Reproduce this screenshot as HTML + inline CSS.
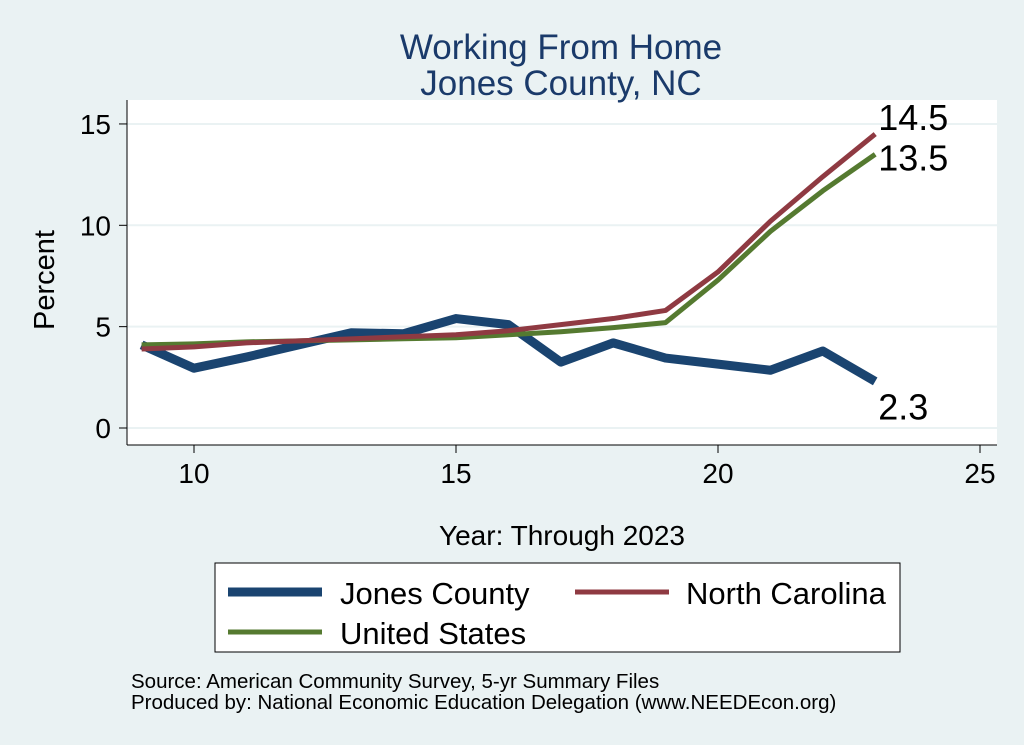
<!DOCTYPE html>
<html><head><meta charset="utf-8"><style>
body{margin:0;background:#eaf2f3;}
svg{display:block;font-family:"Liberation Sans",Arial,sans-serif;}
</style></head><body>
<svg id="chart" width="1024" height="745">
<rect x="0" y="0" width="1024" height="745" fill="#eaf2f3"/>
<rect x="127" y="100" width="870" height="345" fill="#ffffff"/>
<text x="561" y="59" font-size="35" fill="#1a3a6a" text-anchor="middle">Working From Home</text>
<text x="561" y="95" font-size="35" fill="#1a3a6a" text-anchor="middle">Jones County, NC</text>
<g id="grid"></g><g id="axes"></g><g id="series"></g>
<text x="54" y="280" font-size="29" fill="#000" text-anchor="middle" transform="rotate(-90 54 280)">Percent</text>
<text x="562" y="545" font-size="28" fill="#000" text-anchor="middle">Year: Through 2023</text>
<g>
<rect x="215" y="563" width="685" height="89" fill="#fff" stroke="#000" stroke-width="1"/>
<line x1="228" y1="592" x2="322" y2="592" stroke="#1a4470" stroke-width="9"/>
<text x="340" y="604" font-size="31">Jones County</text>
<line x1="575" y1="592" x2="669" y2="592" stroke="#8f3a42" stroke-width="5"/>
<text x="686" y="604" font-size="31">North Carolina</text>
<line x1="228" y1="632" x2="322" y2="632" stroke="#557a30" stroke-width="5"/>
<text x="340" y="644" font-size="31">United States</text>
</g>
<text x="131" y="688" font-size="20.5">Source: American Community Survey, 5-yr Summary Files</text>
<text x="131" y="709" font-size="20.5">Produced by: National Economic Education Delegation (www.NEEDEcon.org)</text>
</svg>
<script>
const years=[9,10,11,12,13,14,15,16,17,18,19,20,21,22,23];
const jones=[4.1,2.95,3.5,4.1,4.7,4.65,5.4,5.1,3.25,4.2,3.45,3.15,2.85,3.8,2.3];
const nc=[3.9,4.0,4.2,4.3,4.4,4.5,4.6,4.8,5.1,5.4,5.8,7.7,10.2,12.4,14.5];
const us=[4.1,4.15,4.25,4.3,4.35,4.4,4.45,4.6,4.75,4.95,5.2,7.3,9.7,11.7,13.5];
const xTicks=[10,15,20,25];
const yTicks=[0,5,10,15];
const NS="http://www.w3.org/2000/svg";
const xs=v=>194+(v-10)*52.4;
const ys=v=>428-v*20.27;
function mk(t,a,p){const e=document.createElementNS(NS,t);for(const k in a)e.setAttribute(k,a[k]);p.appendChild(e);return e;}
const grid=document.getElementById('grid'),axes=document.getElementById('axes'),ser=document.getElementById('series');
yTicks.forEach(v=>{
 const g=mk('line',{x1:127,x2:997,y1:ys(v),y2:ys(v),stroke:'#eaf2f3','stroke-width':2},grid);
 
 
 mk('line',{x1:119,x2:127,y1:ys(v),y2:ys(v),stroke:'#000'},axes);
 const t=mk('text',{x:111,y:ys(v)+10,'font-size':28,'text-anchor':'end'},axes);t.textContent=v;
 
 
});
xTicks.forEach(v=>{
 mk('line',{x1:xs(v),x2:xs(v),y1:445,y2:453,stroke:'#000'},axes);
 const t=mk('text',{x:xs(v),y:483,'font-size':28,'text-anchor':'middle'},axes);t.textContent=v;
 
 
});
mk('line',{x1:127,x2:127,y1:100,y2:445,stroke:'#000'},axes);
mk('line',{x1:127,x2:997,y1:445,y2:445,stroke:'#000'},axes);
function line(d,col,w,name){
 const p=mk('polyline',{points:years.map((y,i)=>xs(y)+','+ys(d[i])).join(' '),fill:'none',stroke:col,'stroke-width':w,'stroke-linejoin':'round'},ser);
 
 
 const n=d.length-1;return [xs(years[n]),ys(d[n]),d[n]];
}
const a=line(jones,'#1a4470',9,'jones-county-line');
const b=line(us,'#557a30',5,'united-states-line');
const c=line(nc,'#8f3a42',5,'north-carolina-line');
[[c,-4,'nc-end-label'],[b,16,'us-end-label'],[a,38,'jones-end-label']].forEach(([p,dy,n])=>{
 const t=mk('text',{x:p[0]+3,y:p[1]+dy,'font-size':36},ser);t.textContent=p[2].toFixed(1);
 
 
});
</script>
</body></html>
